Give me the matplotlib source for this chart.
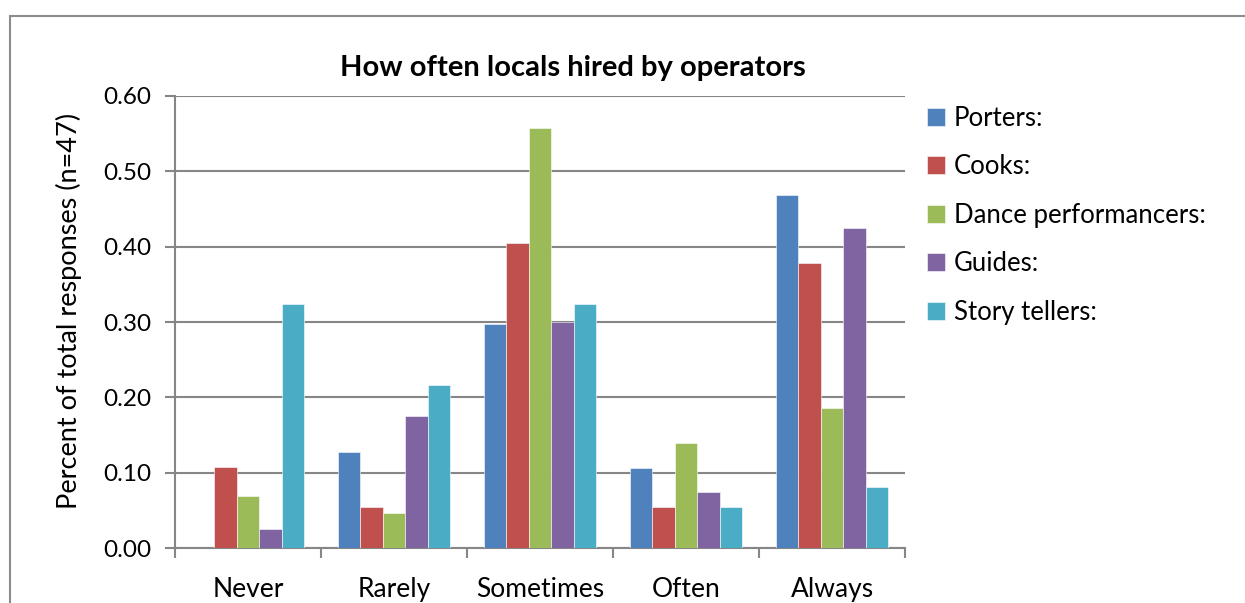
import numpy as np
import matplotlib
matplotlib.use("Agg")
import matplotlib.pyplot as plt
from matplotlib.patches import Rectangle

plt.rcParams['font.family'] = ['Lato', 'DejaVu Sans']

categories = ["Never", "Rarely", "Sometimes", "Often", "Always"]
series = ["Porters:", "Cooks:", "Dance performancers:", "Guides:", "Story tellers:"]
porters = [0.000, 0.128, 0.298, 0.106, 0.468]
cooks = [0.108, 0.054, 0.405, 0.054, 0.378]
dancers = [0.069, 0.046, 0.558, 0.139, 0.186]
guides = [0.025, 0.175, 0.300, 0.075, 0.425]
storytellers = [0.324, 0.216, 0.324, 0.054, 0.081]
colors = ["#4F81BD", "#C0504D", "#9BBB59", "#8064A2", "#4BACC6"]

fig = plt.figure(figsize=(12.45, 6.03), dpi=100)
ax = fig.add_axes([0.1406, 0.0912, 0.5863, 0.7496])

x = np.arange(len(categories))
w = 1 / 6.5
for i, (vals, c, name) in enumerate(zip([porters, cooks, dancers, guides, storytellers], colors, series)):
    ax.bar(x + (i - 2) * w, vals, w, color=c, label=name,
           edgecolor="white", linewidth=0.4, zorder=3)

ax.set_xlim(-0.5, 4.5)
ax.set_ylim(0, 0.6)
ax.set_yticks(np.arange(0, 0.61, 0.1))
ax.yaxis.set_major_formatter(matplotlib.ticker.FormatStrFormatter("%.2f"))
ax.grid(axis="y", color="#868686", linewidth=1.5, zorder=0)

for s in ["top", "right"]:
    ax.spines[s].set_visible(False)
for s in ["left", "bottom"]:
    ax.spines[s].set_color("#868686")
    ax.spines[s].set_linewidth(1.5)

ax.tick_params(axis="y", length=7, width=1.5, color="#868686", labelsize=17.5, pad=10)
ax.set_xticks(x)
ax.set_xticklabels(categories, fontsize=19)
ax.tick_params(axis="x", which="major", length=0, pad=21)
ax.set_xticks(np.arange(-0.5, 5, 1), minor=True)
ax.tick_params(axis="x", which="minor", length=7, width=1.5, color="#868686")

ax.set_ylabel("Percent of total responses (n=47)", fontsize=19.5, labelpad=15)
ax.yaxis.label.set_y(0.524)
fig.text(0.460, 0.888, "How often locals hired by operators", fontsize=21,
         fontweight="bold", ha="center", va="center")

fig.legend(loc="upper left", bbox_to_anchor=(0.736, 0.842), frameon=False,
           fontsize=18.5, handlelength=0.7, handleheight=0.7, handletextpad=0.35,
           labelspacing=0.92, borderaxespad=0)

# outer chart border
fig.add_artist(Rectangle((10 / 1245, -0.1), 1.1, (603 - 15.5) / 603 + 0.1,
                         transform=fig.transFigure, fill=False,
                         edgecolor="#8c8c8c", linewidth=1.5))

fig.savefig("out.png", dpi=100)
